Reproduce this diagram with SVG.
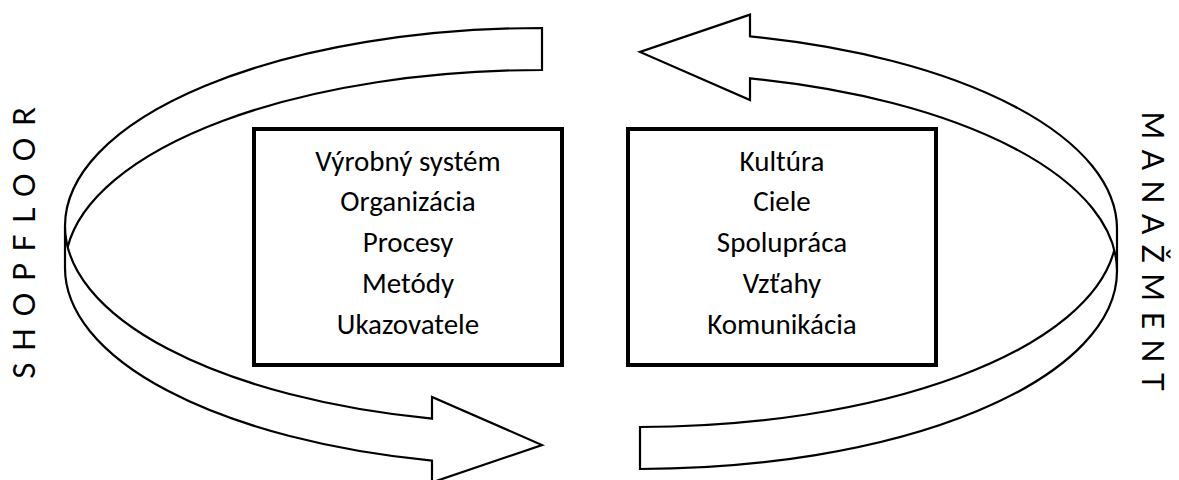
<svg xmlns="http://www.w3.org/2000/svg" width="1179" height="480" viewBox="0 0 1179 480">
<style>
.arrow{fill:#fff;stroke:#000;stroke-width:2.2;stroke-linejoin:miter}
.box{fill:#fff;stroke:#000;stroke-width:4}
.t{font-family:"Carlito","Lato",sans-serif;font-size:29px;fill:#000;text-anchor:middle}
.side{font-family:"Lato",sans-serif;font-size:30px;fill:#000;text-anchor:middle}
</style>
<defs>
<path id="curvedArrow" d="M 65 226 A 477 198 0 0 0 432 418.7 L 432 397 L 542 445 L 432 482.4 L 432 460.7 A 477 198 0 0 1 65 268 L 65 226 A 477 198 0 0 1 542 28 L 542 70 A 477 198 0 0 0 67.7 247"/>
</defs>
<g id="connectors">
<use id="arrow-shopfloor" href="#curvedArrow" class="arrow"/>
<use id="arrow-manazment" href="#curvedArrow" class="arrow" transform="rotate(180 591 248.5)"/>
</g>
<g id="box-left">
<rect class="box" x="254" y="129" width="308" height="236"/>
<text class="t" x="408" y="171">Výrobný systém</text>
<text class="t" x="408" y="211">Organizácia</text>
<text class="t" x="408" y="252">Procesy</text>
<text class="t" x="408" y="293">Metódy</text>
<text class="t" x="408" y="334">Ukazovatele</text>
</g>
<g id="box-right">
<rect class="box" x="628" y="129" width="308" height="236"/>
<text class="t" x="782" y="171">Kultúra</text>
<text class="t" x="782" y="211">Ciele</text>
<text class="t" x="782" y="252">Spolupráca</text>
<text class="t" x="782" y="293">Vzťahy</text>
<text class="t" x="782" y="334">Komunikácia</text>
</g>
<g id="label-shopfloor">
<text class="side" letter-spacing="11.5" transform="translate(35 243) rotate(-90)" x="5.75">SHOPFLOOR</text>
</g>
<g id="label-manazment">
<text class="side" letter-spacing="10.5" transform="translate(1142 251) rotate(90)" x="5.25">MANAŽMENT</text>
</g>
</svg>
